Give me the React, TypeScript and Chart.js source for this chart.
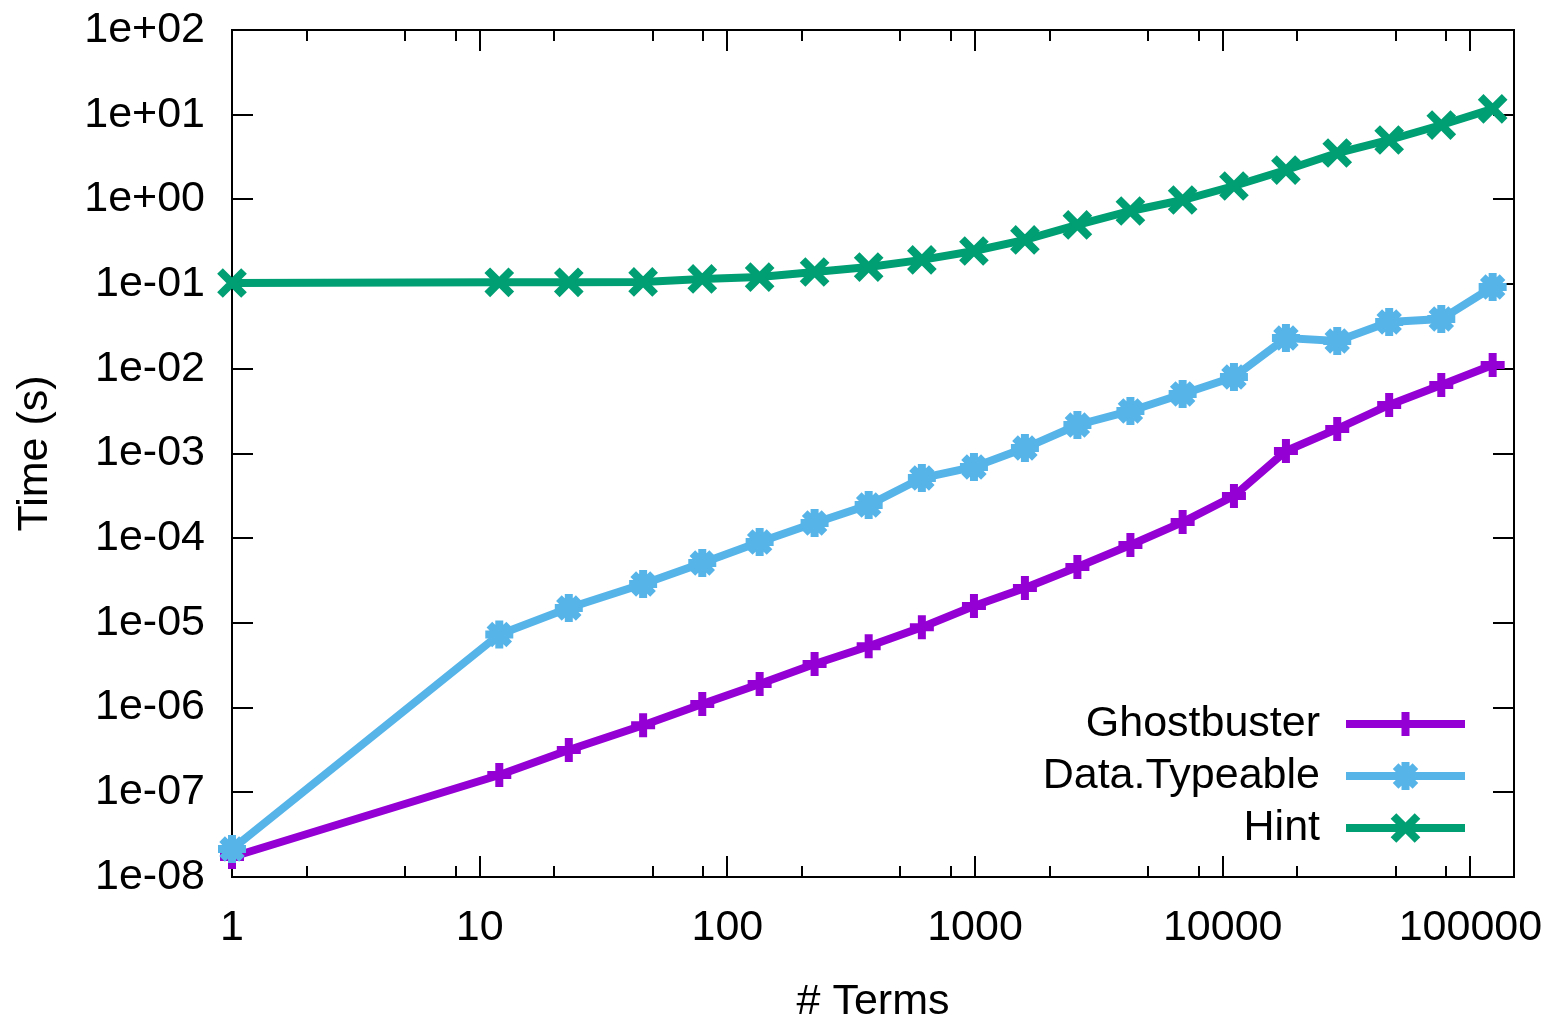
import React, { useEffect, useRef } from 'react';
import { Chart, registerables } from 'chart.js';
import { drawPoint } from 'chart.js/helpers';

Chart.register(...registerables);

const terms = [1, 12, 22.9, 45.7, 79.2, 135, 225, 372, 610, 990, 1590, 2590, 4240, 6890, 11100, 18000, 29000, 47000, 76300, 123000];
const ghostbuster = [1.72e-8, 1.6e-7, 3.15e-7, 6.2e-7, 1.1e-6, 1.9e-6, 3.27e-6, 5.3e-6, 8.9e-6, 1.58e-5, 2.58e-5, 4.57e-5, 8.3e-5, 1.55e-4, 3.15e-4, 1.07e-3, 1.95e-3, 3.74e-3, 6.44e-3, 1.11e-2];
const typeable = [2.14e-8, 7.3e-6, 1.5e-5, 2.88e-5, 5.1e-5, 9.0e-5, 1.51e-4, 2.46e-4, 5.14e-4, 6.93e-4, 1.16e-3, 2.17e-3, 3.18e-3, 5.05e-3, 8.0e-3, 2.31e-2, 2.13e-2, 3.57e-2, 3.87e-2, 9.24e-2];
const hint = [0.103, 0.105, 0.105, 0.106, 0.115, 0.121, 0.139, 0.159, 0.193, 0.246, 0.332, 0.499, 0.73, 0.984, 1.44, 2.22, 3.53, 5.03, 7.55, 11.7];

const xTicks = [1, 10, 100, 1000, 10000, 100000];
const yTicks = [1e-8, 1e-7, 1e-6, 1e-5, 1e-4, 1e-3, 1e-2, 1e-1, 1e0, 1e1, 1e2];
const seriesNames = ['Ghostbuster', 'Data.Typeable', 'Hint'];
const seriesColors = ['#9400d3', '#56b4e9', '#009e73'];
const seriesMarkers = ['cross', 'star', 'crossRot'];
const seriesRadius = [12, 14, 17];

const FONT = '"Liberation Sans", Arial, Helvetica, sans-serif';
const FS = 43;
const LW = 8;

function fmtExp(v: number): string {
  const e = Math.round(Math.log10(v));
  const sign = e < 0 ? '-' : '+';
  const a = Math.abs(e);
  return '1e' + sign + (a < 10 ? '0' + a : '' + a);
}

function zeroPad(scale: any) {
  scale.paddingTop = 0;
  scale.paddingBottom = 0;
  scale.paddingLeft = 0;
  scale.paddingRight = 0;
}

const frameTicks = {
  id: 'frameTicks',
  beforeDatasetsDraw(chart: any) {
    const { ctx, chartArea } = chart;
    const { left, right, top, bottom } = chartArea;
    const xs = chart.scales.x;
    const ys = chart.scales.y;
    ctx.save();
    ctx.strokeStyle = '#000';
    ctx.lineWidth = 2;
    ctx.beginPath();
    const major = 21;
    const minor = 11;
    yTicks.forEach((v) => {
      const p = Math.round(ys.getPixelForValue(v));
      ctx.moveTo(left, p);
      ctx.lineTo(left + major, p);
      ctx.moveTo(right, p);
      ctx.lineTo(right - major, p);
    });
    xTicks.forEach((d) => {
      const p = Math.round(xs.getPixelForValue(d));
      ctx.moveTo(p, bottom);
      ctx.lineTo(p, bottom - major);
      ctx.moveTo(p, top);
      ctx.lineTo(p, top + major);
      [2, 5, 8].forEach((m) => {
        const v = d * m;
        if (v <= xs.max) {
          const q = Math.round(xs.getPixelForValue(v));
          ctx.moveTo(q, bottom);
          ctx.lineTo(q, bottom - minor);
          ctx.moveTo(q, top);
          ctx.lineTo(q, top + minor);
        }
      });
    });
    ctx.stroke();
    ctx.strokeRect(left, top, right - left, bottom - top);
    ctx.restore();
  },
};

const keyLegend = {
  id: 'keyLegend',
  afterDraw(chart: any) {
    const { ctx } = chart;
    const rows = [724, 776, 828];
    const textRight = 1320;
    const lineStart = 1346;
    const lineEnd = 1465;
    ctx.save();
    ctx.font = `${FS}px ${FONT}`;
    ctx.textAlign = 'right';
    ctx.textBaseline = 'middle';
    seriesNames.forEach((name, i) => {
      const y = rows[i];
      ctx.fillStyle = '#000';
      ctx.fillText(name, textRight, y);
      ctx.strokeStyle = seriesColors[i];
      ctx.lineWidth = LW;
      ctx.beginPath();
      ctx.moveTo(lineStart, y);
      ctx.lineTo(lineEnd, y);
      ctx.stroke();
      drawPoint(ctx, {
        pointStyle: seriesMarkers[i],
        radius: seriesRadius[i],
        borderWidth: LW,
        rotation: 0,
      } as any, (lineStart + lineEnd) / 2, y);
    });
    ctx.restore();
  },
};

export default function App() {
  const ref = useRef<HTMLCanvasElement | null>(null);
  useEffect(() => {
    if (!ref.current) return;
    const seriesData = [ghostbuster, typeable, hint];
    const chart = new Chart(ref.current, {
      type: 'line',
      data: {
        datasets: seriesNames.map((name, i) => ({
          label: name,
          data: terms.map((t, k) => ({ x: t, y: seriesData[i][k] })),
          borderColor: seriesColors[i],
          backgroundColor: seriesColors[i],
          borderWidth: LW,
          pointStyle: seriesMarkers[i] as any,
          pointRadius: seriesRadius[i],
          pointBorderWidth: LW,
          pointBorderColor: seriesColors[i],
          pointBackgroundColor: seriesColors[i],
          tension: 0,
          clip: false as any,
          order: 3 - i,
        })),
      },
      options: {
        responsive: false,
        animation: false,
        events: [],
        layout: { padding: { top: 30, right: 41, left: 0, bottom: 0 } },
        plugins: { legend: { display: false }, tooltip: { enabled: false } },
        scales: {
          x: {
            type: 'logarithmic',
            min: 1,
            max: 150000,
            grid: { display: false, drawTicks: false },
            border: { display: false },
            afterBuildTicks: (scale: any) => {
              scale.ticks = xTicks.map((v) => ({ value: v }));
            },
            afterFit: (scale: any) => {
              scale.height = 144;
              zeroPad(scale);
            },
            ticks: {
              autoSkip: false,
              maxRotation: 0,
              padding: 25,
              color: '#000',
              font: { family: FONT, size: FS },
              callback: (v: any) => String(v),
            },
            title: {
              display: true,
              text: '# Terms',
              color: '#000',
              font: { family: FONT, size: FS },
              padding: { top: 0, bottom: -7 },
            },
          },
          y: {
            type: 'logarithmic',
            min: 1e-8,
            max: 1e2,
            grid: { display: false, drawTicks: false },
            border: { display: false },
            afterBuildTicks: (scale: any) => {
              scale.ticks = yTicks.map((v) => ({ value: v }));
            },
            afterFit: (scale: any) => {
              scale.width = 232;
              zeroPad(scale);
            },
            ticks: {
              autoSkip: false,
              padding: 27,
              color: '#000',
              font: { family: FONT, size: FS },
              callback: (v: any) => fmtExp(Number(v)),
            },
            title: {
              display: true,
              text: 'Time (s)',
              color: '#000',
              font: { family: FONT, size: FS },
              padding: { top: 9, bottom: 0 },
            },
          },
        },
      },
      plugins: [frameTicks, keyLegend],
    } as any);
    return () => chart.destroy();
  }, []);
  return (
    <div style={{ position: 'absolute', left: 0, top: 0, width: 1555, height: 1021, background: '#fff' }}>
      <canvas ref={ref} width={1555} height={1021} style={{ display: 'block' }} />
    </div>
  );
}
